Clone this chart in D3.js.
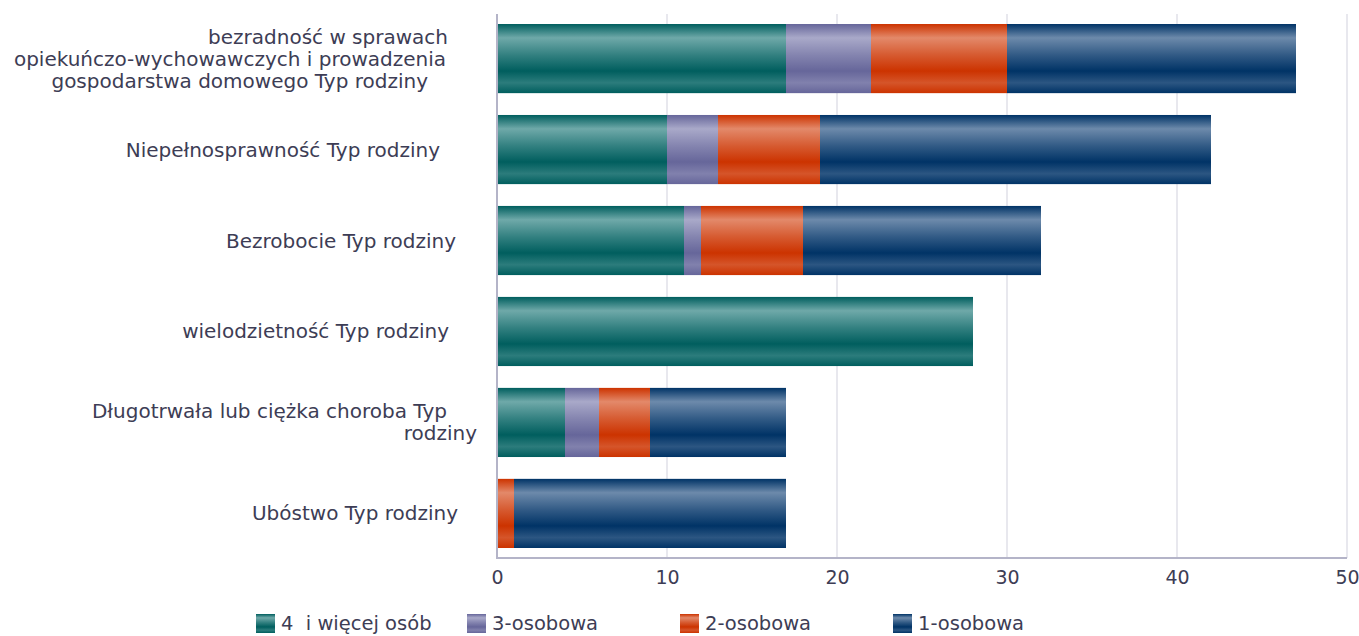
<!DOCTYPE html>
<html><head><meta charset="utf-8">
<script src="https://cdn.jsdelivr.net/npm/d3@7/dist/d3.min.js"></script>
<style>body{margin:0;background:#fff}svg{display:block}text{font-family:"DejaVu Sans",sans-serif}</style>
</head><body><svg id="c" width="1359" height="636"></svg>
<script>
const categories = [
  ["bezradność w sprawach","opiekuńczo-wychowawczych i prowadzenia","gospodarstwa domowego Typ rodziny"],
  ["Niepełnosprawność Typ rodziny"],
  ["Bezrobocie Typ rodziny"],
  ["wielodzietność Typ rodziny"],
  ["Długotrwała lub ciężka choroba Typ","rodziny"],
  ["Ubóstwo Typ rodziny"]
];
const seriesNames = ["4  i więcej osób","3-osobowa","2-osobowa","1-osobowa"];
const s4plus = [17,10,11,28,4,0];
const s3 = [5,3,1,0,2,0];
const s2 = [8,6,6,0,3,1];
const s1 = [17,23,14,0,8,16];
const xTicks = [0,10,20,30,40,50];

const colors = [
  {dark:"#005e5e", light:"#6fa9a9"},
  {dark:"#66669a", light:"#a9a9c9"},
  {dark:"#cc3300", light:"#e3896a"},
  {dark:"#003366", light:"#6d8aab"}
];
const lineOffsets = [[-30,-32,-50],[-38],[-22],[-29],[-31,-1],[-20]];

const svg = d3.select("#c");
const m = {left:497, right:1347, top:14, bottom:558};
const x = d3.scaleLinear().domain([0,50]).range([m.left,m.right]);
const y = d3.scaleBand().domain(d3.range(categories.length)).range([m.top,m.bottom]).paddingInner(0.24).paddingOuter(0.11);

const defs = svg.append("defs");
colors.forEach((c,i)=>{
  const g = defs.append("linearGradient").attr("id","g"+i).attr("x1",0).attr("y1",0).attr("x2",0).attr("y2",1);
  [[0,c.dark],[0.2,c.light],[0.45,d3.interpolateRgb(c.light,c.dark)(0.55)],[0.68,c.dark],[0.85,d3.interpolateRgb(c.dark,c.light)(0.4)],[1,c.dark]]
    .forEach(([o,col])=>g.append("stop").attr("offset",o).attr("stop-color",col));
});

// grid
svg.append("g").selectAll("line").data(xTicks.slice(1)).join("line")
  .attr("x1",d=>x(d)).attr("x2",d=>x(d)).attr("y1",m.top).attr("y2",m.bottom)
  .attr("stroke","#e1e1e8").attr("stroke-width",1.5);

const stacked = d3.stack().keys([0,1,2,3])(categories.map((c,i)=>({0:s4plus[i],1:s3[i],2:s2[i],3:s1[i]})));
svg.append("g").selectAll("g").data(stacked).join("g")
  .attr("fill",(d,i)=>`url(#g${i})`)
  .selectAll("rect").data(d=>d.map((v,i)=>({v,i}))).join("rect")
  .attr("x",d=>x(d.v[0])).attr("width",d=>x(d.v[1])-x(d.v[0]))
  .attr("y",d=>y(d.i)).attr("height",y.bandwidth());

// axes lines
svg.append("line").attr("x1",m.left).attr("x2",m.left).attr("y1",m.top).attr("y2",m.bottom+1).attr("stroke","#b4b4c8").attr("stroke-width",2);
svg.append("line").attr("x1",m.left).attr("x2",m.right).attr("y1",m.bottom).attr("y2",m.bottom).attr("stroke","#b4b4c8").attr("stroke-width",2);

const xAxis = svg.append("g").attr("transform",`translate(0,${m.bottom})`).call(d3.axisBottom(x).tickValues(xTicks).tickSize(0).tickPadding(13));
xAxis.select(".domain").remove();
xAxis.selectAll("text").attr("font-size",19).attr("fill","#3d3d55").attr("font-family","'Open Sans'");

// category labels
const lh = 22;
categories.forEach((lines,i)=>{
  const cy = y(i)+y.bandwidth()/2;
  const t = svg.append("text").attr("text-anchor","end").attr("font-size",20).attr("fill","#3d3d55");
  lines.forEach((ln,j)=>{
    t.append("tspan").attr("x",478+lineOffsets[i][j]).attr("y",cy+(j-(lines.length-1)/2)*lh).attr("dy","0.35em").text(ln);
  });
});

// legend
const lx = [256,467,680,893];
const lg = svg.append("g").selectAll("g").data(seriesNames).join("g").attr("transform",(d,i)=>`translate(${lx[i]},614)`);
lg.append("rect").attr("width",19).attr("height",19).attr("fill",(d,i)=>`url(#g${i})`);
lg.append("text").attr("x",25).attr("y",9).attr("dy","0.35em").attr("font-size",19.5).attr("fill","#3d3d55").style("white-space","pre").text(d=>d);
</script></body></html>
